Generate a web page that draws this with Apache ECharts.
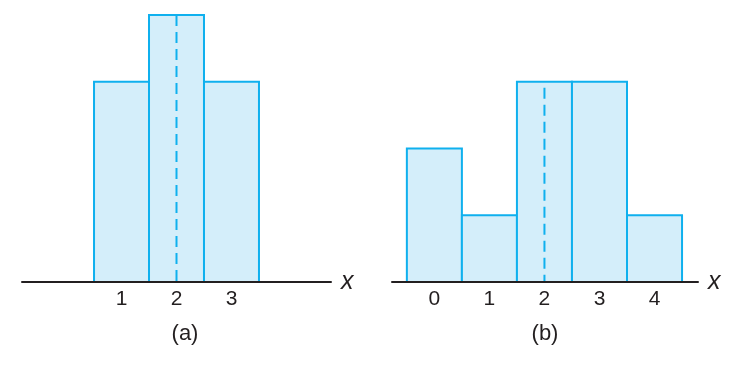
<!DOCTYPE html>
<html>
<head>
<meta charset="utf-8">
<script src="https://cdn.jsdelivr.net/npm/echarts@6/dist/echarts.min.js"></script>
<style>
html,body{margin:0;padding:0;background:#fff;}
#chart{width:743px;height:372px;}
</style>
</head>
<body>
<div id="chart"></div>
<script>
// Panel (a)
const xValuesA = [1, 2, 3];
const probsA = [0.3, 0.4, 0.3];
const meanA = 2;
const tickLabelsA = [1, 2, 3];
// Panel (b)
const xValuesB = [0, 1, 2, 3, 4];
const probsB = [0.2, 0.1, 0.3, 0.3, 0.1];
const meanB = 2;
const tickLabelsB = [0, 1, 2, 3, 4];
const panelLabels = ['(a)', '(b)'];

const FILL = '#d4eefa';
const STROKE = '#0fb0ee';
const INK = '#231f20';
const FONT = '"Liberation Sans", Arial, Helvetica, sans-serif';

function renderBin(params, api) {
  const x = api.value(0), y = api.value(1);
  const p0 = api.coord([x - 0.5, y]);
  const p1 = api.coord([x + 0.5, 0]);
  return {
    type: 'rect',
    shape: { x: p0[0], y: p0[1], width: p1[0] - p0[0], height: p1[1] - p0[1] },
    style: { fill: FILL, stroke: STROKE, lineWidth: 2 }
  };
}

function xAxisFor(idx, min, max, ticks) {
  return {
    type: 'value', gridIndex: idx, min: min, max: max, z: 5,
    splitLine: { show: false },
    axisTick: { show: false },
    axisLine: { show: true, lineStyle: { color: INK, width: 2 } },
    axisLabel: { customValues: ticks, color: INK, fontSize: 21, fontFamily: FONT, margin: 7 },
    name: 'x', nameLocation: 'end', nameGap: 10,
    nameTextStyle: { color: INK, fontSize: 25, fontStyle: 'italic', fontFamily: FONT, verticalAlign: 'middle', padding: [0, 0, 0, 0] }
  };
}
function yAxisFor(idx) {
  return { type: 'value', gridIndex: idx, min: 0, max: 0.4, show: false, splitLine: { show: false } };
}

const chart = echarts.init(document.getElementById('chart'), null, { renderer: 'canvas' });
chart.setOption({
  animation: false,
  backgroundColor: '#ffffff',
  grid: [
    { left: 22, width: 309, top: 15, bottom: 90 },
    { left: 392, width: 306, top: 15, bottom: 90 }
  ],
  xAxis: [
    xAxisFor(0, -0.81, 4.81, tickLabelsA),
    xAxisFor(1, -0.77, 4.79, tickLabelsB)
  ],
  yAxis: [yAxisFor(0), yAxisFor(1)],
  series: [
    { type: 'custom', xAxisIndex: 0, yAxisIndex: 0, renderItem: renderBin,
      data: xValuesA.map((x, i) => [x, probsA[i]]) },
    { type: 'custom', xAxisIndex: 1, yAxisIndex: 1, renderItem: renderBin,
      data: xValuesB.map((x, i) => [x, probsB[i]]) },
    { type: 'line', xAxisIndex: 0, yAxisIndex: 0, symbol: 'none', z: 3,
      lineStyle: { color: STROKE, width: 2, type: [11, 6] },
      data: [[meanA, Math.max(...probsA)], [meanA, 0]] },
    { type: 'line', xAxisIndex: 1, yAxisIndex: 1, symbol: 'none', z: 3,
      lineStyle: { color: STROKE, width: 2, type: [11, 6], dashOffset: 11 },
      data: [[meanB, probsB[xValuesB.indexOf(meanB)]], [meanB, 0]] }
  ],
  graphic: [
    { type: 'text', x: 185, y: 334, style: { text: panelLabels[0], fill: INK, fontSize: 22, fontFamily: FONT, align: 'center', verticalAlign: 'middle' } },
    { type: 'text', x: 545, y: 334, style: { text: panelLabels[1], fill: INK, fontSize: 22, fontFamily: FONT, align: 'center', verticalAlign: 'middle' } }
  ]
});
</script>
</body>
</html>
